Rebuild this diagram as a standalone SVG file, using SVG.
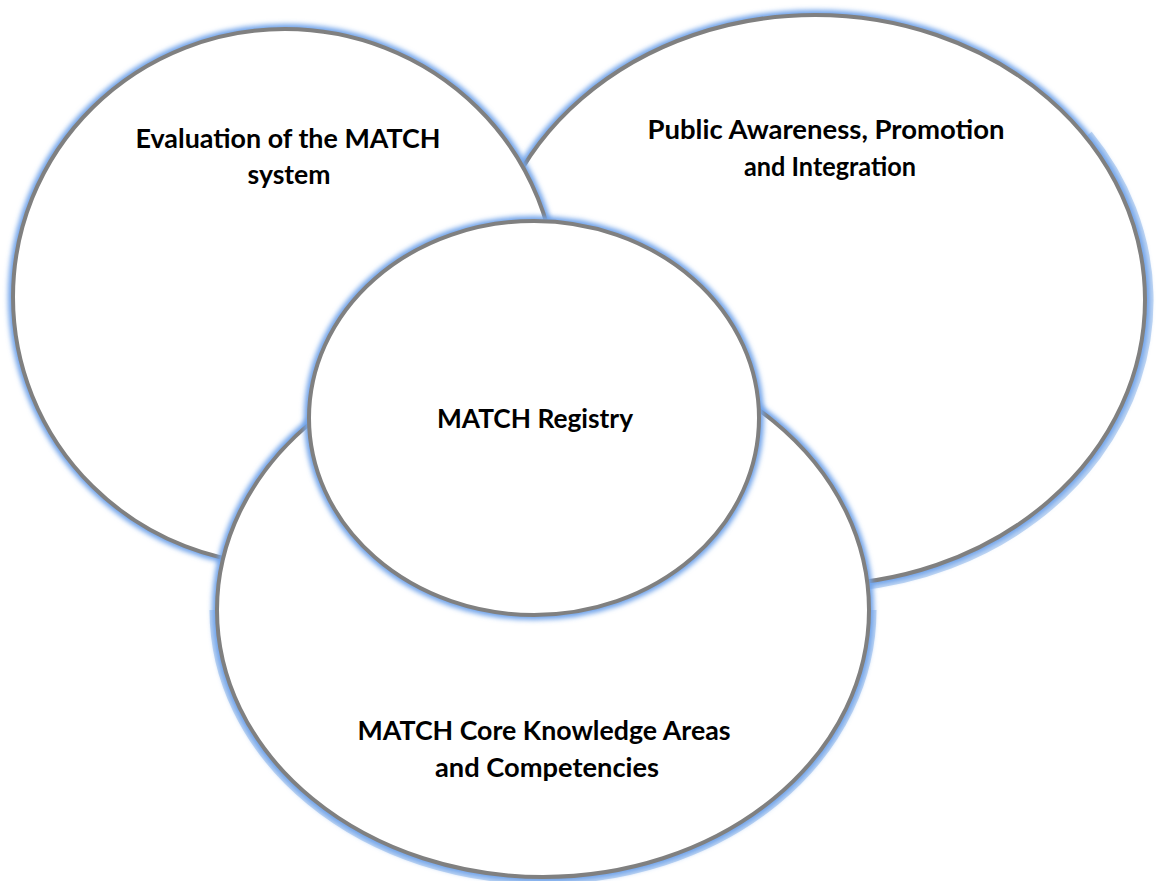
<svg xmlns="http://www.w3.org/2000/svg" width="1157" height="881" viewBox="0 0 1157 881">
  <defs>
    <filter id="glow" x="-10%" y="-10%" width="120%" height="120%">
      <feGaussianBlur stdDeviation="2.4"/>
    </filter>
    <style>
      .halo { fill: none; stroke: #6fa3ea; stroke-width: 10; filter: url(#glow); }
      .band { fill: none; stroke: #c3d8f3; stroke-width: 7; }
      .disc { fill: #ffffff; stroke: #808080; stroke-width: 4; }
      .label { font-family: Lato, "Open Sans", "Liberation Sans", sans-serif; font-weight: 700; font-size: 26px; fill: #000000; text-anchor: middle; }
    </style>
  </defs>
  <rect width="1157" height="881" fill="#ffffff"/>

  <!-- drawn back to front: right, left, bottom, centre -->
  <g id="public-awareness">
    <path class="band" d="M 1089 134 A 334 289 0 0 1 757 585"/>
    <ellipse class="halo" cx="815" cy="300" rx="330" ry="285"/>
    <ellipse class="disc" cx="815" cy="300" rx="330" ry="285"/>
    <text class="label" x="826" y="139" textLength="357" lengthAdjust="spacingAndGlyphs">Public Awareness, Promotion</text>
    <text class="label" x="830" y="176" textLength="172" lengthAdjust="spacingAndGlyphs">and Integration</text>
  </g>

  <g id="evaluation">
    <ellipse class="halo" cx="285" cy="297" rx="272" ry="268"/>
    <ellipse class="disc" cx="285" cy="297" rx="272" ry="268"/>
    <text class="label" x="288" y="148" textLength="305" lengthAdjust="spacingAndGlyphs">Evaluation of the MATCH</text>
    <text class="label" x="289" y="184" textLength="83" lengthAdjust="spacingAndGlyphs">system</text>
  </g>

  <g id="core-knowledge">
    <path class="band" d="M 213 610 A 330 271 0 0 0 873 610"/>
    <ellipse class="halo" cx="543" cy="610" rx="326" ry="267"/>
    <ellipse class="disc" cx="543" cy="610" rx="326" ry="267"/>
    <text class="label" x="544" y="740" textLength="373" lengthAdjust="spacingAndGlyphs">MATCH Core Knowledge Areas</text>
    <text class="label" x="547" y="777" textLength="224" lengthAdjust="spacingAndGlyphs">and Competencies</text>
  </g>

  <g id="registry">
    <ellipse class="halo" cx="534" cy="418" rx="225" ry="197"/>
    <ellipse class="disc" cx="534" cy="418" rx="225" ry="197"/>
    <text class="label" x="535" y="428" textLength="196" lengthAdjust="spacingAndGlyphs">MATCH Registry</text>
  </g>
</svg>
